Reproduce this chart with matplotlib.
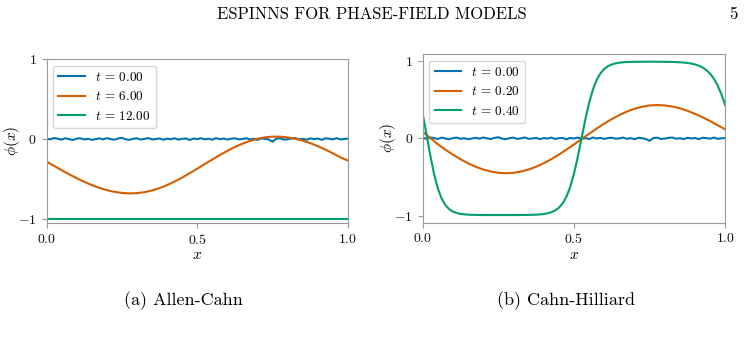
import numpy as np
import matplotlib
matplotlib.use("Agg")
import matplotlib.pyplot as plt

plt.rcParams['font.family'] = 'serif'
plt.rcParams['font.serif'] = ['cmr10']
plt.rcParams['mathtext.fontset'] = 'cm'
plt.rcParams['axes.formatter.use_mathtext'] = True
plt.rcParams['axes.unicode_minus'] = True

# grid for the smooth curves
x = np.linspace(0, 1, 41)

# initial noisy state (same for both models)
phi0 = [0.005, -0.004, 0.012, 0.003, -0.008, 0.010, -0.002, -0.012, 0.004, 0.009,
        -0.006, 0.002, -0.010, -0.003, 0.008, -0.005, 0.011, 0.000, -0.009, 0.006,
        0.014, -0.004, -0.011, 0.003, 0.009, -0.007, 0.001, 0.012, -0.006, -0.002,
        0.007, -0.010, 0.004, -0.003, 0.010, -0.008, 0.002, 0.006, -0.012, 0.005,
        -0.001, 0.009, -0.005, 0.003, -0.009, 0.011, -0.002, 0.006, -0.007, 0.004,
        0.008, -0.004, 0.000, 0.010, -0.006, 0.003, -0.011, 0.007, 0.002, -0.008,
        -0.032, 0.004, 0.009, -0.008, -0.003, 0.006, 0.011, -0.005, 0.002, -0.009,
        0.007, -0.001, 0.005, -0.010, 0.008, 0.003, -0.004, 0.010, -0.006, 0.001,
        0.004]
x0 = np.linspace(0, 1, len(phi0))

# Allen-Cahn
ac_t6 = [-0.282, -0.336, -0.389, -0.441, -0.490, -0.535, -0.576, -0.611, -0.639, -0.661,
         -0.674, -0.680, -0.677, -0.665, -0.643, -0.614, -0.576, -0.532, -0.482, -0.428,
         -0.371, -0.313, -0.256, -0.200, -0.148, -0.100, -0.058, -0.024, 0.003, 0.021,
         0.029, 0.029, 0.020, 0.003, -0.021, -0.052, -0.090, -0.132, -0.179, -0.230,
         -0.270]
ac_t12 = [-1.0] * len(x)
ac_labels = ["0.00", "6.00", "12.00"]

# Cahn-Hilliard
ch_t02 = [0.085, 0.005, -0.075, -0.146, -0.210, -0.269, -0.321, -0.366, -0.402, -0.428,
          -0.445, -0.450, -0.445, -0.428, -0.402, -0.366, -0.321, -0.269, -0.210, -0.146,
          -0.079, -0.010, 0.059, 0.126, 0.190, 0.249, 0.301, 0.346, 0.382, 0.408,
          0.425, 0.430, 0.425, 0.411, 0.388, 0.356, 0.317, 0.272, 0.223, 0.170,
          0.115]
x_fine = np.linspace(0, 1, 81)
ch_t04 = [0.318, 0.055, -0.216, -0.457, -0.645, -0.776, -0.861, -0.914, -0.946, -0.964,
          -0.975, -0.981, -0.985, -0.987, -0.988, -0.989, -0.990, -0.990, -0.990, -0.990,
          -0.990, -0.990, -0.990, -0.990, -0.990, -0.990, -0.989, -0.989, -0.988, -0.987,
          -0.985, -0.982, -0.977, -0.968, -0.954, -0.932, -0.896, -0.840, -0.754, -0.629,
          -0.457, -0.242, 0.000, 0.242, 0.457, 0.629, 0.754, 0.840, 0.896, 0.932,
          0.954, 0.968, 0.977, 0.982, 0.985, 0.987, 0.988, 0.989, 0.989, 0.990,
          0.990, 0.990, 0.989, 0.989, 0.988, 0.988, 0.986, 0.985, 0.982, 0.979,
          0.973, 0.966, 0.954, 0.938, 0.915, 0.881, 0.835, 0.769, 0.682, 0.568,
          0.427]
ch_labels = ["0.00", "0.20", "0.40"]

colors = ['#0173b2', '#d55e00', '#029e73']

fig = plt.figure(figsize=(7.44, 3.42), dpi=100)
ax1 = fig.add_axes([0.0625, 0.348, 0.4052, 0.4795])
ax2 = fig.add_axes([0.5681, 0.3488, 0.4067, 0.4933])

panels = [(ax1, x, ac_t6, x, ac_t12, ac_labels),
          (ax2, x, ch_t02, x_fine, ch_t04, ch_labels)]
for ax, xa, ya, xb, yb, labs in panels:
    ax.plot(x0, phi0, color=colors[0], lw=1.5, label=r"$t$ = " + labs[0])
    ax.plot(xa, ya, color=colors[1], lw=1.5, label=r"$t$ = " + labs[1])
    ax.plot(xb, yb, color=colors[2], lw=1.5, label=r"$t$ = " + labs[2])
    ax.set_xlim(0, 1)
    ax.set_xticks([0, 0.5, 1.0])
    ax.set_yticks([-1, 0, 1])
    ax.set_xlabel(r"$x$", fontsize=11, labelpad=1)
    ax.set_ylabel(r"$\phi(x)$", fontsize=11)
    ax.yaxis.set_label_coords(-0.08, 0.5)
    for s in ax.spines.values():
        s.set_color('#999999')
        s.set_linewidth(0.8)
    ax.tick_params(colors='#999999', labelcolor='#111111', labelsize=10, length=3.5, width=0.8)
    ax.legend(loc='upper left', fontsize=9.5)

ax1.set_ylim(-1.05, 1.0)

fig.text(0.5, 0.958, "ESPINNS FOR PHASE-FIELD MODELS", ha='center', va='center', fontsize=12)
fig.text(0.985, 0.958, "5", ha='center', va='center', fontsize=12)
fig.text(0.247, 0.122, "(a) Allen-Cahn", ha='center', va='center', fontsize=13)
fig.text(0.761, 0.122, "(b) Cahn-Hilliard", ha='center', va='center', fontsize=13)

fig.savefig("out.png", dpi=100)
